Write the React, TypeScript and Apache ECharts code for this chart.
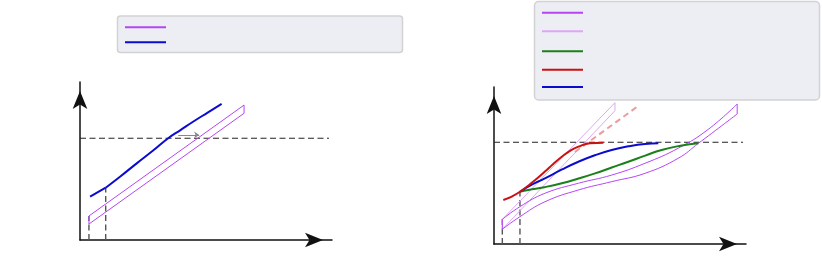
import React, { useEffect, useRef } from "react";
import * as echarts from "echarts";

// ---- Left panel (units: x 0..10, y 0..10) ----
const L_threshold = 6.44;
const L_thresholdEnd = 9.88;
const L_blueStart: number[][] = [[0.4, 2.74], [1.02, 3.31]];
const L_blueCurve: number[][] = [[1.02, 3.31], [1.6, 4.02], [2.25, 4.85], [2.9, 5.66], [3.5, 6.44], [4.0, 6.97], [4.5, 7.5], [5.05, 8.05], [5.62, 8.61]];
const L_bandUpper: number[][] = [[0.355, 1.52], [6.51, 8.54]];
const L_bandLower: number[][] = [[0.355, 1.01], [6.51, 8.02]];
const L_vert: number[][] = [[0.355, 1.52], [1.02, 3.31]];
const L_arrow: number[][] = [[3.9, 6.65], [4.73, 6.65]];

// ---- Right panel (units: x 0..10, y 0..10) ----
const R_threshold = 6.48;
const R_thresholdEnd = 9.88;
const R_vert: number[][] = [[0.33, 1.57], [1.03, 3.33]];
const R_red: number[][] = [[0.37, 2.8], [0.7, 3.02], [1.03, 3.33], [1.5, 3.9], [2.02, 4.61], [2.35, 5.1], [2.69, 5.56], [3.0, 5.92], [3.35, 6.2], [3.81, 6.41], [4.34, 6.45]];
const R_redDashed: number[][] = [[3.21, 5.86], [5.67, 8.73]];
const R_blue: number[][] = [[1.03, 3.33], [1.5, 3.78], [2.02, 4.18], [2.7, 4.75], [3.35, 5.24], [4.0, 5.65], [4.67, 5.99], [5.33, 6.22], [5.99, 6.37], [6.52, 6.41]];
const R_green: number[][] = [[1.03, 3.33], [1.36, 3.44], [2.0, 3.62], [2.69, 3.87], [3.35, 4.17], [4.01, 4.5], [4.67, 4.87], [5.33, 5.24], [6.0, 5.63], [6.65, 5.99], [7.4, 6.26], [8.11, 6.41]];
const R_bandUpper: number[][] = [[0.33, 1.57], [1.03, 2.38], [2.02, 3.23], [3.35, 3.87], [4.67, 4.39], [5.99, 5.14], [7.31, 6.1], [8.5, 7.3], [9.65, 8.92]];
const R_bandLower: number[][] = [[0.33, 0.94], [1.03, 1.74], [2.02, 2.69], [3.35, 3.44], [4.67, 3.97], [5.99, 4.5], [7.31, 5.46], [8.11, 6.41], [9.65, 8.28]];
const R_lightUpper: number[][] = [[0.33, 1.57], [4.8, 9.0]];
const R_lightLower: number[][] = [[0.33, 0.94], [4.8, 8.49]];

const PURPLE = "#b545f5";
const LIGHT = "#dca8f6";
const GREEN = "#1b7f1b";
const RED = "#cc1111";
const BLUE = "#0b0bcf";
const SALMON = "#ee9a9a";

function ln(gi: number, data: number[][], color: string, width: number, opts: any = {}) {
  return {
    type: "line",
    xAxisIndex: gi,
    yAxisIndex: gi,
    data,
    symbol: "none",
    silent: true,
    smooth: opts.smooth ?? false,
    z: opts.z ?? 2,
    lineStyle: { color, width, type: opts.dash ?? "solid", cap: "butt" },
  };
}

function band(gi: number, upper: number[][], lower: number[][], color: string, smooth: number, out: any[]) {
  out.push(ln(gi, upper, color, 1, { smooth }));
  out.push(ln(gi, lower, color, 1, { smooth }));
  out.push(ln(gi, [upper[0], lower[0]], color, 1));
  out.push(ln(gi, [upper[upper.length - 1], lower[lower.length - 1]], color, 1));
}

export default function App() {
  const ref = useRef<HTMLDivElement>(null);
  useEffect(() => {
    document.body.style.margin = "0";
    const chart = echarts.init(ref.current!, null, { renderer: "svg" });
    const axisLine = {
      show: true,
      symbol: ["none", "arrow"],
      symbolSize: [11, 18],
      symbolOffset: [0, -9],
      lineStyle: { color: "#111", width: 1.5 },
    };
    const mkAxis = (gi: number) => ({
      type: "value",
      gridIndex: gi,
      min: 0,
      max: 10,
      axisLine,
      axisTick: { show: false },
      axisLabel: { show: false },
      splitLine: { show: false },
    });
    const dash: any = [6, 3.5];
    const series: any[] = [];
    // Left panel
    series.push(ln(0, [[0, L_threshold], [L_thresholdEnd, L_threshold]], "#222", 1, { dash }));
    L_vert.forEach((p) => series.push(ln(0, [[p[0], 0], p], "#555", 1.4, { dash })));
    band(0, L_bandUpper, L_bandLower, PURPLE, 0, series);
    series.push(ln(0, L_blueStart, BLUE, 2, { z: 3 }));
    series.push(ln(0, L_blueCurve, BLUE, 2, { smooth: 0.5, z: 3 }));
    series.push({
      type: "lines",
      coordinateSystem: "cartesian2d",
      xAxisIndex: 0,
      yAxisIndex: 0,
      silent: true,
      symbol: ["none", "arrow"],
      symbolSize: 5,
      lineStyle: { color: "#888", width: 1, opacity: 1 },
      data: [{ coords: L_arrow }],
      z: 3,
    });
    // Right panel
    series.push(ln(1, [[0, R_threshold], [R_thresholdEnd, R_threshold]], "#222", 1, { dash }));
    R_vert.forEach((p) => series.push(ln(1, [[p[0], 0], p], "#555", 1.4, { dash })));
    band(1, R_lightUpper, R_lightLower, LIGHT, 0, series);
    band(1, R_bandUpper, R_bandLower, PURPLE, 0.45, series);
    series.push(ln(1, R_redDashed, SALMON, 2, { dash: [6, 4] }));
    series.push(ln(1, R_green, GREEN, 2, { smooth: 0.5, z: 3 }));
    series.push(ln(1, R_blue, BLUE, 2, { smooth: 0.5, z: 3 }));
    series.push(ln(1, R_red, RED, 2, { smooth: 0.5, z: 3 }));

    const legendLine = (x: number, y: number, color: string) => ({
      type: "line",
      shape: { x1: x, y1: y, x2: x + 41, y2: y },
      style: { stroke: color, lineWidth: 2 },
      z: 101,
    });

    chart.setOption({
      animation: false,
      grid: [
        { left: 80, top: 82, width: 252, height: 158 },
        { left: 494, top: 87, width: 252, height: 157 },
      ],
      xAxis: [mkAxis(0), mkAxis(1)],
      yAxis: [mkAxis(0), mkAxis(1)],
      series,
      graphic: [
        {
          type: "rect",
          shape: { x: 117.5, y: 16, width: 285, height: 36.5, r: 3 },
          style: { fill: "#edeef4", stroke: "#d2d2d2", lineWidth: 1.5 },
          z: 100,
        },
        legendLine(125, 27.3, PURPLE),
        legendLine(125, 42.3, BLUE),
        {
          type: "rect",
          shape: { x: 534.5, y: 1.5, width: 285, height: 98.5, r: 4 },
          style: { fill: "#edeef4", stroke: "#d2d2d2", lineWidth: 1.5 },
          z: 100,
        },
        legendLine(542, 12.7, PURPLE),
        legendLine(542, 31.3, LIGHT),
        legendLine(542, 51.3, GREEN),
        legendLine(542, 69.7, RED),
        legendLine(542, 87, BLUE),
      ],
    });
    return () => chart.dispose();
  }, []);
  return <div ref={ref} style={{ width: 822, height: 265 }} />;
}
